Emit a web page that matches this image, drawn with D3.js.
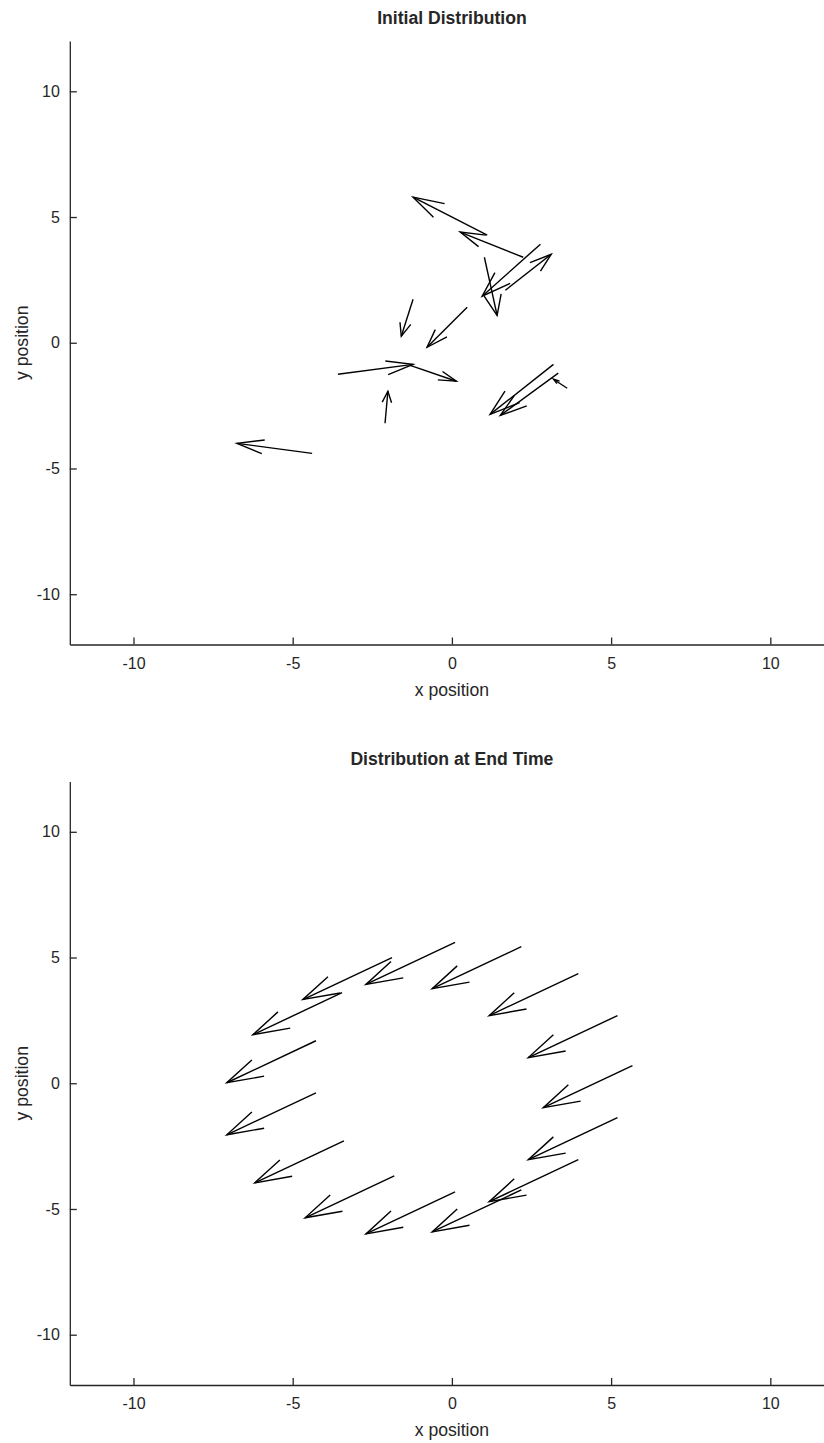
<!DOCTYPE html>
<html>
<head>
<meta charset="utf-8">
<script src="https://cdn.jsdelivr.net/npm/d3@7"></script>
<style>
  html, body { margin: 0; padding: 0; background: #ffffff; }
  svg { display: block; }
  text { font-family: "Liberation Sans", Arial, Helvetica, sans-serif; fill: #262626; }
</style>
</head>
<body>
<svg id="fig" width="824" height="1443"></svg>
<script>
// Axis ticks shared by both panels
const xTicks = [-10, -5, 0, 5, 10];
const yTicks = [-10, -5, 0, 5, 10];
const xDomain = [-12, 12];
const yDomain = [-12, 12];

// Initial distribution: particle positions (x, y) and scaled velocity (u, v)
const initX = [1.11, 2.24, 2.78, 1.68, 1.02, -1.22, 0.48, -3.58, -1.31, -2.10, 3.19, 3.34, 3.62, -4.39];
const initY = [4.28, 3.40, 3.92, 2.09, 3.40, 1.73, 1.41, -1.25, -0.90, -3.20, -0.86, -1.21, -1.81, -4.40];
const initU = [-2.33, -1.98, -1.83, 1.44, 0.40, -0.37, -1.26, 2.36, 1.45, 0.09, -1.99, -1.82, -0.43, -2.36];
const initV = [1.51, 1.00, -2.07, 1.43, -2.31, -1.47, -1.59, 0.39, -0.63, 1.27, -1.99, -1.68, 0.36, 0.40];

// Distribution at end time: particles on a ring, all moving together
const endX = [5.67, 5.20, 3.97, 2.18, 0.10, -1.88, -3.45, -4.27, -4.27, -3.39, -1.81, 0.10, 2.18, 3.97, 5.20];
const endY = [0.70, 2.69, 4.36, 5.43, 5.60, 5.00, 3.60, 1.69, -0.38, -2.29, -3.68, -4.32, -4.24, -3.04, -1.37];
const endU = [-2.80, -2.80, -2.80, -2.80, -2.80, -2.80, -2.80, -2.80, -2.80, -2.80, -2.80, -2.80, -2.80, -2.80, -2.80];
const endV = [-1.67, -1.67, -1.67, -1.67, -1.67, -1.67, -1.67, -1.67, -1.67, -1.67, -1.67, -1.67, -1.67, -1.67, -1.67];

const panels = [
  { title: "Initial Distribution", top: 41, bottom: 644.5, xs: initX, ys: initY, us: initU, vs: initV },
  { title: "Distribution at End Time", top: 781.5, bottom: 1385, xs: endX, ys: endY, us: endU, vs: endV }
];

// Arrowhead shape parameters (fractions of the arrow vector)
const headAlpha = 0.35;
const headBeta = 0.33;

const svg = d3.select("#fig");
const left = 69.8, right = 834;

panels.forEach(p => {
  const x = d3.scaleLinear().domain(xDomain).range([left, right]);
  const y = d3.scaleLinear().domain(yDomain).range([p.bottom, p.top]);
  const g = svg.append("g");

  // Arrows: shaft + two barbs, computed in data space
  const arrows = p.xs.map((x0, i) => ({ x0, y0: p.ys[i], u: p.us[i], v: p.vs[i] }));
  const line = d3.line().x(d => x(d[0])).y(d => y(d[1]));
  arrows.forEach(a => {
    const tx = a.x0 + a.u, ty = a.y0 + a.v;
    g.append("path")
      .attr("d", line([[a.x0, a.y0], [tx, ty]]))
      .attr("fill", "none").attr("stroke", "#000").attr("stroke-width", 1.4);
    const head = [
      [tx - headAlpha * (a.u + headBeta * a.v), ty - headAlpha * (a.v - headBeta * a.u)],
      [tx, ty],
      [tx - headAlpha * (a.u - headBeta * a.v), ty - headAlpha * (a.v + headBeta * a.u)]
    ];
    g.append("path")
      .attr("d", line(head))
      .attr("fill", "none").attr("stroke", "#000").attr("stroke-width", 1.4)
      .attr("stroke-linejoin", "miter");
  });

  // Axes with inward ticks
  const xAxis = d3.axisBottom(x).tickValues(xTicks).tickSizeInner(-7).tickSizeOuter(0).tickPadding(13)
    .tickFormat(d3.format("d"));
  const yAxis = d3.axisLeft(y).tickValues(yTicks).tickSizeInner(-7).tickSizeOuter(0).tickPadding(10)
    .tickFormat(d3.format("d"));

  const gx = g.append("g").attr("transform", `translate(0,${p.bottom})`).call(xAxis);
  const gy = g.append("g").attr("transform", `translate(${left},0)`).call(yAxis);
  [gx, gy].forEach(ax => {
    ax.select(".domain").attr("stroke", "#262626").attr("stroke-width", 1.3);
    ax.selectAll(".tick line").attr("stroke", "#262626").attr("stroke-width", 1.3);
    ax.selectAll(".tick text").attr("fill", "#262626")
      .style("font-family", "'Liberation Sans', Arial, sans-serif").style("font-size", "16px");
  });
  gx.selectAll(".tick text").text(d => d < 0 ? "-" + Math.abs(d) : d);
  gy.selectAll(".tick text").text(d => d < 0 ? "-" + Math.abs(d) : d);

  // Title and axis labels
  const cx = (left + right) / 2;
  g.append("text").attr("x", cx).attr("y", p.top - 17)
    .attr("text-anchor", "middle").style("font-size", "17.6px").style("font-weight", "bold")
    .attr("fill", "#000").text(p.title);
  g.append("text").attr("x", cx).attr("y", p.bottom + 51)
    .attr("text-anchor", "middle").style("font-size", "17.6px").text("x position");
  const cy = (p.top + p.bottom) / 2;
  g.append("text").attr("transform", `translate(28,${cy}) rotate(-90)`)
    .attr("text-anchor", "middle").style("font-size", "17.6px").text("y position");
});
</script>
</body>
</html>
